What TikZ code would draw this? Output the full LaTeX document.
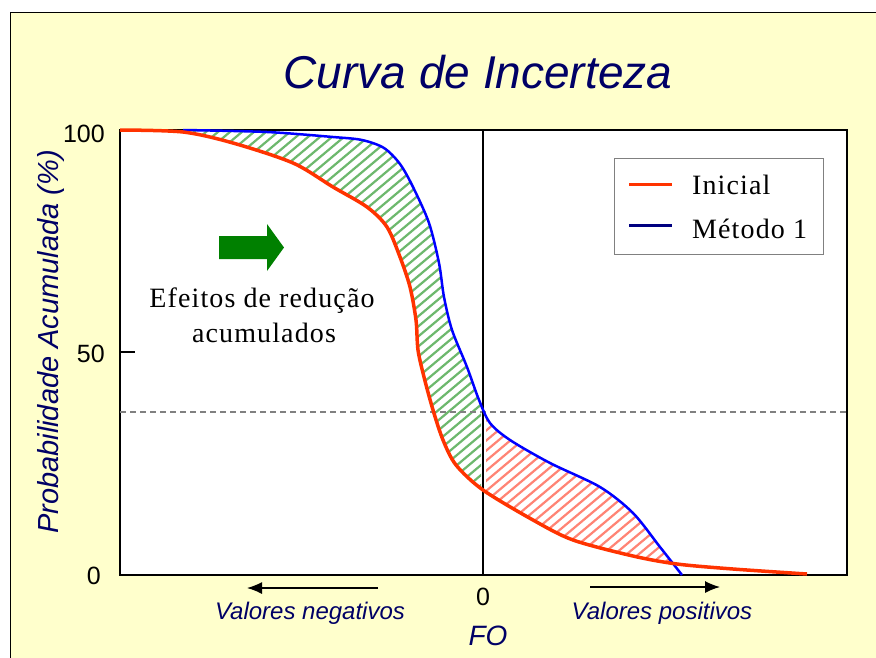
\documentclass[tikz,border=0pt]{standalone}
\usepackage{fontspec}
\setmainfont{Liberation Serif}
\setsansfont{Liberation Sans}
\usetikzlibrary{arrows.meta,positioning}

\definecolor{fundo}{HTML}{FFFFCC}
\definecolor{azulescuro}{HTML}{000066}
\definecolor{inicial}{HTML}{FF3300}
\definecolor{metodo}{HTML}{0000FF}
\definecolor{legmetodo}{HTML}{000080}
\definecolor{verde}{HTML}{008000}
\definecolor{hverde}{HTML}{6DB86D}
\definecolor{hvermelho}{HTML}{FF8475}

\begin{document}
\begin{tikzpicture}[x=1pt,y=-1pt,
    curvaI/.style = {draw=inicial, line width=3.5pt, line join=round},% curva inicial
    curvaM/.style = {draw=metodo, line width=2.5pt, line join=round},% curva do metodo
    hachura/.style = {line width=2.2pt},
    rotulo/.style = {font=\sffamily\itshape\fontsize{24}{28}\selectfont,
                text=azulescuro, inner sep=0pt},
    valor/.style = {font=\sffamily\fontsize{25}{30}\selectfont, inner sep=0pt},
    texto/.style = {font=\fontsize{28}{34}\selectfont\addfontfeatures{LetterSpace=4},
                inner sep=0pt},
    seta/.style = {line width=1.3pt, -{Latex[length=15pt,width=12pt]}},
                        ]
\def\inicial{plot[smooth] coordinates {(120,130) (183,132) (233,143) (293,163)
    (333,187) (367,207) (387,227) (400,257) (410,287) (416,320) (418,350)
    (424,377) (433,410) (443,440) (456,465) (483,490) (533,520) (573,540)
    (633,556) (677,564) (733,569) (807,574)}}
\def\metodo{plot[smooth] coordinates {(183,130) (267,132) (333,137) (362,140)
    (384,148) (400,164) (413,187) (429,223) (439,263) (444,297) (452,330)
    (467,367) (479,400) (490,423) (510,440) (550,463) (600,487) (633,513)
    (660,547) (682,575)}}

\useasboundingbox (0,0) rectangle (876,657);
\fill[white] (0,0) rectangle (876,657);
\draw[fill=fundo] (10,12) rectangle (900,680);
\node[draw, line width=1.5pt, fill=white, minimum width=727pt, minimum height=445pt,
      inner sep=0pt, outer sep=0pt, anchor=north west] (grafico) at (120,130) {};
% hachuras
\begin{scope}
  \clip \metodo -- (120,575) -- (120,130) -- cycle;
  \clip \inicial -- (847,575) -- (847,130) -- cycle;
  \clip (120,130) rectangle (481,575);
  \foreach \k in {-460,-448,...,860}
     \draw[hachura, draw=hverde] (\k,580) -- ++(-40:720);
\end{scope}
\begin{scope}
  \clip \metodo -- (120,575) -- (120,130) -- cycle;
  \clip \inicial -- (847,575) -- (847,130) -- cycle;
  \clip (486,130) rectangle (847,575);
  \foreach \k in {-460,-448,...,860}
     \draw[hachura, draw=hvermelho] (\k,580) -- ++(-40:720);
\end{scope}
\draw[gray, line width=1.2pt, dash pattern=on 6pt off 4pt] (120,412) -- (847,412);
\draw[line width=1.5pt] (483,130) -- (483,575);
\draw[line width=1.5pt] (120,352) -- (135,352);
\draw[curvaM] \metodo;
\draw[curvaI] \inicial;

% titulo e eixos
\node[font=\sffamily\itshape\fontsize{46}{54}\selectfont, text=azulescuro,
      anchor=base] (titulo) at (478,88) {Curva de Incerteza};
\node[valor, anchor=base east] (y100) at (105,142) {100};
\node[valor, anchor=base east] (y50) at (105,362) {50};
\node[valor, anchor=base east] (y0) at (101,584) {0};
\node[valor, anchor=base] (x0) at (483,605) {0};
\node[rotulo, font=\sffamily\itshape\fontsize{28}{34}\selectfont, anchor=base]
      (fo) at (488,645) {FO};
\node[rotulo, font=\sffamily\itshape\fontsize{29}{34}\selectfont, rotate=90,
      anchor=base] (prob) at (58,342) {Probabilidade Acumulada (\%)};
\node[rotulo, anchor=base] (neg) at (310,619) {Valores negativos};
\node[rotulo, anchor=base] (pos) at (662,619) {Valores positivos};
\coordinate (negA) at (378,588);
\coordinate (negB) at (247,588);
\coordinate (posA) at (590,587);
\coordinate (posB) at (720,587);
\draw[seta] (negA) -- (negB);
\draw[seta] (posA) -- (posB);

% seta verde e texto
\fill[verde] (219,236) -- (267,236) -- (267,224) -- (284,247.5) -- (267,271)
      -- (267,259) -- (219,259) -- cycle;
\node[texto, anchor=base] (efeitos) at (262,307) {Efeitos de redução};
\node[texto, anchor=base] (acum) at (264,342) {acumulados};

% legenda
\node[draw=gray, line width=1pt, fill=white, minimum width=209pt, minimum height=96pt,
      inner sep=0pt] (legenda) at (718.5,206) {};
\draw[draw=inicial, line width=3pt] (629,184) -- (672,184);
\draw[draw=legmetodo, line width=3pt] (629,225) -- (672,225);
\node[texto, anchor=base west] (leg1) at (692,194) {Inicial};
\node[texto, anchor=base west] (leg2) at (692,238) {Método 1};
\end{tikzpicture}
\end{document}
